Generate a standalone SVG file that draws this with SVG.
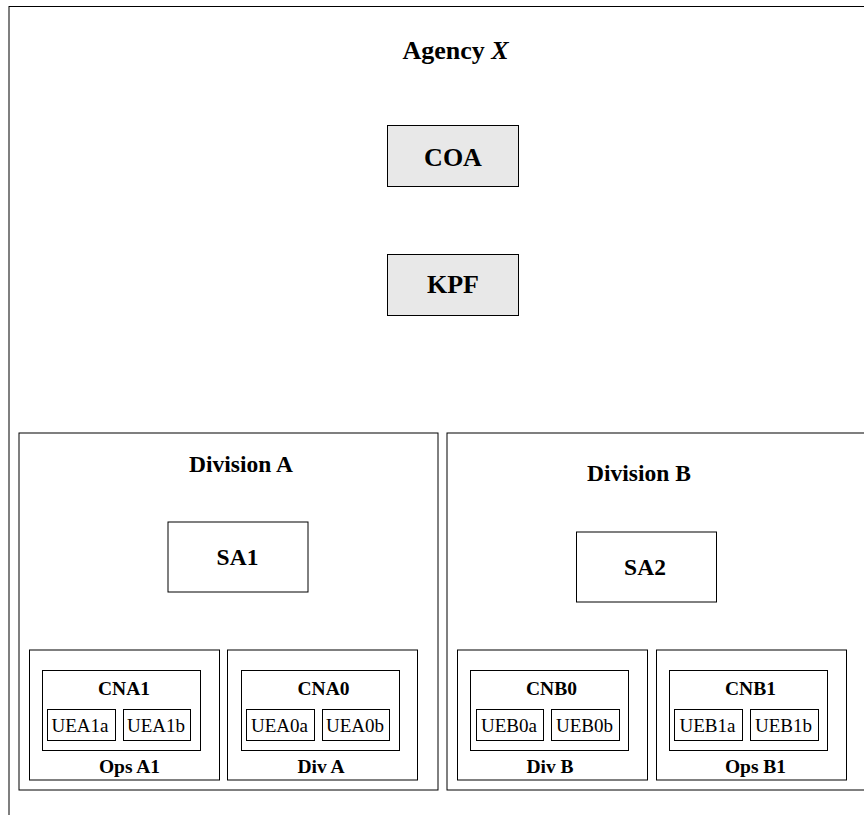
<svg xmlns="http://www.w3.org/2000/svg" width="864" height="815" viewBox="0 0 864 815">
<style>
  .frame{fill:none;stroke:#000;stroke-width:1}
  .grey{fill:#e8e8e8;stroke:#000;stroke-width:1}
  .box{fill:#fff;stroke:#000;stroke-width:1}
  text{font-family:"Liberation Serif","Times New Roman",serif;text-anchor:middle;fill:#000}
  .big{font-size:26px;font-weight:bold}
  .div{font-size:23.5px;font-weight:bold}
  .mid{font-size:19.5px;font-weight:bold}
  .ue{font-size:19px}
</style>
<rect width="864" height="815" fill="#fff"/>
<g id="agency">
  <rect class="frame" x="9" y="6.5" width="880" height="830"/>
  <text class="big" x="455.5" y="59">Agency <tspan font-style="italic">X</tspan></text>
</g>
<g id="COA">
  <rect class="grey" x="387.5" y="125.5" width="131" height="61"/>
  <text class="big" x="453" y="166">COA</text>
</g>
<g id="KPF">
  <rect class="grey" x="387.5" y="254.5" width="131" height="61"/>
  <text class="big" x="453" y="293">KPF</text>
</g>
<g id="divisionA">
  <rect class="frame" x="19" y="433" width="419" height="357"/>
  <text class="div" x="241" y="472">Division A</text>
</g>
<g id="SA1">
  <rect class="box" x="168" y="522" width="140" height="70"/>
  <text class="div" x="237.5" y="565">SA1</text>
</g>
<g id="opsA1">
  <rect class="box" x="29.5" y="650" width="190" height="130"/>
  <text class="mid" x="129.5" y="773">Ops A1</text>
</g>
<g id="CNA1">
  <rect class="box" x="42.5" y="670.5" width="158" height="80"/>
  <text class="mid" x="124" y="695">CNA1</text>
</g>
<g id="UEA1a">
  <rect class="box" x="47.5" y="709.5" width="68" height="31"/>
  <text class="ue" x="80" y="731.5">UEA1a</text>
</g>
<g id="UEA1b">
  <rect class="box" x="123.5" y="709.5" width="67" height="31"/>
  <text class="ue" x="156" y="731.5">UEA1b</text>
</g>
<g id="divA">
  <rect class="box" x="227.5" y="650" width="190" height="130"/>
  <text class="mid" x="321" y="773">Div A</text>
</g>
<g id="CNA0">
  <rect class="box" x="241.5" y="670.5" width="158" height="80"/>
  <text class="mid" x="323.5" y="695">CNA0</text>
</g>
<g id="UEA0a">
  <rect class="box" x="246.5" y="709.5" width="68" height="31"/>
  <text class="ue" x="279.5" y="731.5">UEA0a</text>
</g>
<g id="UEA0b">
  <rect class="box" x="322.5" y="709.5" width="67" height="31"/>
  <text class="ue" x="355" y="731.5">UEA0b</text>
</g>
<g id="divisionB">
  <rect class="frame" x="447" y="433" width="419" height="357"/>
  <text class="div" x="639" y="481">Division B</text>
</g>
<g id="SA2">
  <rect class="box" x="576.5" y="532" width="140" height="70"/>
  <text class="div" x="645" y="575">SA2</text>
</g>
<g id="divB">
  <rect class="box" x="457.5" y="650" width="190" height="130"/>
  <text class="mid" x="550" y="773">Div B</text>
</g>
<g id="CNB0">
  <rect class="box" x="470.5" y="670.5" width="158" height="80"/>
  <text class="mid" x="551.5" y="695">CNB0</text>
</g>
<g id="UEB0a">
  <rect class="box" x="476.5" y="709.5" width="67" height="31"/>
  <text class="ue" x="509" y="731.5">UEB0a</text>
</g>
<g id="UEB0b">
  <rect class="box" x="551.5" y="709.5" width="68" height="31"/>
  <text class="ue" x="584.5" y="731.5">UEB0b</text>
</g>
<g id="opsB1">
  <rect class="box" x="656.5" y="650" width="190" height="130"/>
  <text class="mid" x="755.5" y="773">Ops B1</text>
</g>
<g id="CNB1">
  <rect class="box" x="669.5" y="670.5" width="158" height="80"/>
  <text class="mid" x="750.5" y="695">CNB1</text>
</g>
<g id="UEB1a">
  <rect class="box" x="674.5" y="709.5" width="68" height="31"/>
  <text class="ue" x="707.5" y="731.5">UEB1a</text>
</g>
<g id="UEB1b">
  <rect class="box" x="750.5" y="709.5" width="68" height="31"/>
  <text class="ue" x="783.5" y="731.5">UEB1b</text>
</g>
<g id="connectors"></g>
</svg>
